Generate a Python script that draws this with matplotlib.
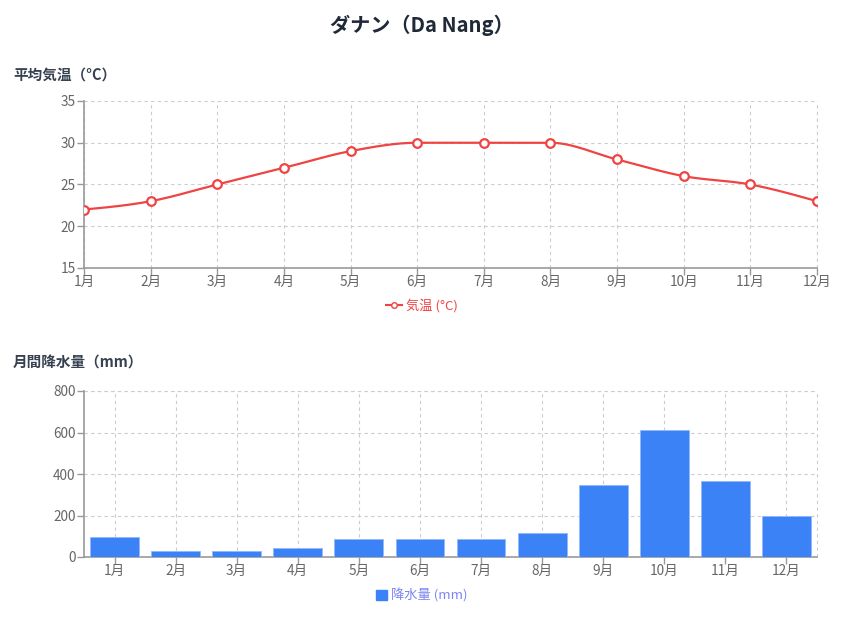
import numpy as np
import matplotlib
matplotlib.use('Agg')
import matplotlib.pyplot as plt
from matplotlib.lines import Line2D
from matplotlib.patches import Patch

plt.rcParams['font.family'] = ['Noto Sans CJK JP', 'DejaVu Sans']

months = ['1月', '2月', '3月', '4月', '5月', '6月', '7月', '8月', '9月', '10月', '11月', '12月']
temp = [22, 23, 25, 27, 29, 30, 30, 30, 28, 26, 25, 23]
rain = [96, 30, 30, 41, 89, 89, 89, 116, 347, 612, 365, 199]

RED = '#ef4444'
BLUE = '#3b82f6'
TICK = '#666666'
AXIS = '#999999'
GRID = '#cccccc'


def monotone_path(x, y, n=30):
    # d3 curveMonotoneX style rendering of the line
    x = np.asarray(x, float)
    y = np.asarray(y, float)
    h = np.diff(x)
    s = np.diff(y) / h
    t = np.zeros(len(x))
    for i in range(1, len(x) - 1):
        p = (s[i - 1] * h[i] + s[i] * h[i - 1]) / (h[i - 1] + h[i])
        t[i] = (np.sign(s[i - 1]) + np.sign(s[i])) * min(abs(s[i - 1]), abs(s[i]), 0.5 * abs(p))
    t[0] = (3 * s[0] - t[1]) / 2
    t[-1] = (3 * s[-1] - t[-2]) / 2
    xs, ys = [], []
    u = np.linspace(0, 1, n)
    for i in range(len(x) - 1):
        dx = h[i] / 3
        px = [x[i], x[i] + dx, x[i + 1] - dx, x[i + 1]]
        py = [y[i], y[i] + dx * t[i], y[i + 1] - dx * t[i + 1], y[i + 1]]
        b = [(1 - u) ** 3, 3 * u * (1 - u) ** 2, 3 * u ** 2 * (1 - u), u ** 3]
        xs.extend(sum(b[k] * px[k] for k in range(4)))
        ys.extend(sum(b[k] * py[k] for k in range(4)))
    return xs, ys


def style_axes(ax):
    ax.grid(True, color=GRID, linestyle=(0, (3, 3)), linewidth=0.8)
    ax.set_axisbelow(True)
    for side in ['top', 'right']:
        ax.spines[side].set_visible(False)
    for side in ['left', 'bottom']:
        ax.spines[side].set_color(AXIS)
        ax.spines[side].set_linewidth(1.2)
    ax.tick_params(colors=AXIS, labelcolor=TICK, labelsize=9.8, length=5, width=1)


fig = plt.figure(figsize=(8.44, 6.21), dpi=100)
fig.text(0.5, 1 - 25 / 621, 'ダナン（Da Nang）', ha='center', va='center',
         fontsize=14.5, fontweight='bold', color='#1f2937')

# temperature
ax1 = fig.add_axes([84 / 844, 1 - 268 / 621, 733 / 844, 167 / 621])
fig.text(13 / 844, 1 - 75 / 621, '平均気温（°C）', ha='left', va='center',
         fontsize=10.5, fontweight='bold', color='#374151')
xi = np.arange(len(months))
cx, cy = monotone_path(xi, temp)
ax1.plot(cx, cy, color=RED, linewidth=1.6, zorder=3)
ax1.plot(xi, temp, linestyle='none', marker='o', markersize=6.2,
         markerfacecolor='white', markeredgecolor=RED, markeredgewidth=1.6, zorder=4)
ax1.set_xlim(0, 11)
ax1.set_ylim(15, 35)
ax1.set_xticks(xi)
ax1.set_xticklabels(months)
ax1.set_yticks([15, 20, 25, 30, 35])
style_axes(ax1)
ax1.tick_params(axis='x', pad=0)
ax1.tick_params(axis='y', pad=1)
ax1.plot([1, 1], [0, 1], transform=ax1.transAxes, color=GRID, linestyle=(0, (3, 3)),
         linewidth=0.8, clip_on=False)
h1 = Line2D([], [], color=RED, marker='o', markersize=4, markerfacecolor='white',
            markeredgecolor=RED, linewidth=1.5)
leg1 = fig.legend([h1], ['気温 (°C)'], loc='center', bbox_to_anchor=(0.5, 1 - 306 / 621),
                  frameon=False, fontsize=9.5, handlelength=1.2, handletextpad=0.3)
for t in leg1.get_texts():
    t.set_color(RED)

# rainfall
ax2 = fig.add_axes([84 / 844, 1 - 557 / 621, 733 / 844, 166 / 621])
fig.text(13 / 844, 1 - 363 / 621, '月間降水量（mm）', ha='left', va='center',
         fontsize=10.5, fontweight='bold', color='#374151')
ax2.bar(xi, rain, width=0.8, color=BLUE, edgecolor='#93b8f8', linewidth=0.6, zorder=3)
ax2.set_xlim(-0.5, 11.5)
ax2.set_ylim(0, 800)
ax2.set_xticks(xi)
ax2.set_xticklabels(months)
ax2.set_yticks([0, 200, 400, 600, 800])
style_axes(ax2)
ax2.tick_params(axis='x', pad=0)
ax2.tick_params(axis='y', pad=1)
ax2.plot([0, 1], [1, 1], transform=ax2.transAxes, color=GRID, linestyle=(0, (3, 3)),
         linewidth=0.8, clip_on=False)
ax2.plot([1, 1], [0, 1], transform=ax2.transAxes, color=GRID, linestyle=(0, (3, 3)),
         linewidth=0.8, clip_on=False)
h2 = Patch(facecolor=BLUE, edgecolor=BLUE)
leg2 = fig.legend([h2], ['降水量 (mm)'], loc='center', bbox_to_anchor=(0.5, 1 - 596 / 621),
                  frameon=False, fontsize=9.5, handlelength=0.8, handleheight=0.8,
                  handletextpad=0.3)
for t in leg2.get_texts():
    t.set_color('#7c86f2')

fig.savefig('out.png', dpi=100)
